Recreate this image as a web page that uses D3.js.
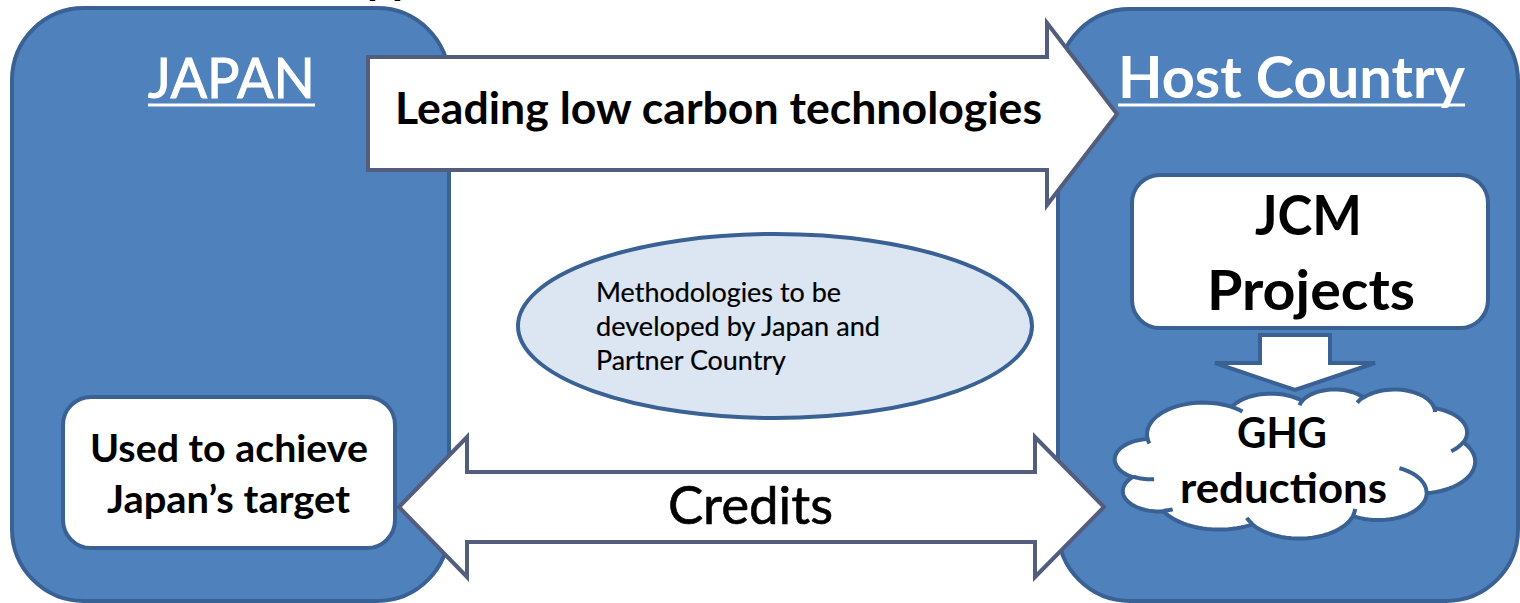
<!DOCTYPE html>
<html><head><meta charset="utf-8">
<script src="https://cdn.jsdelivr.net/npm/d3@7"></script>
<style>html,body{margin:0;padding:0;background:#fff;overflow:hidden}</style>
</head><body>
<svg id="c" width="1520" height="603"></svg>
<script>
// ---- content ----
const regions = ["JAPAN", "Host Country"];
const flowLabels = ["Leading low carbon technologies", "Credits"];
const japanBox = ["Used to achieve", "Japan\u2019s target"];
const projectBox = ["JCM", "Projects"];
const methodLines = ["Methodologies to be", "developed by Japan and", "Partner Country"];
const outcomeLines = ["GHG", "reductions"];
const titleFragment = ["pp"];

// ---- styles ----
const FONT = "Lato, 'Open Sans', 'Noto Sans', sans-serif";
const C = {
  panel: "#4F81BD", panelStroke: "#3A6194",
  arrowStroke: "#535D7D", white: "#FFFFFF",
  ellipse: "#DCE6F2", text: "#000000"
};

const svg = d3.select("#c");
const g = svg.append("g");

// ---- layout ----
const panelLayout = [
  {x0: 12, y0: 8, x1: 449, y1: 601, r: 72},
  {x0: 1058, y0: 9, x1: 1518, y1: 601, r: 72}
];
const regionText = [
  {x: 148, y: 98, w: 167, size: 57, weight: 400, ul: 105, sw: 1},
  {x: 1118, y: 98, w: 347, size: 57, weight: 700, ul: 105}
];

// panels
g.selectAll("rect.panel").data(regions).join("rect")
  .attr("class", "panel")
  .attr("x", (d, i) => panelLayout[i].x0).attr("y", (d, i) => panelLayout[i].y0)
  .attr("width", (d, i) => panelLayout[i].x1 - panelLayout[i].x0)
  .attr("height", (d, i) => panelLayout[i].y1 - panelLayout[i].y0)
  .attr("rx", (d, i) => panelLayout[i].r)
  .attr("fill", C.panel).attr("stroke", C.panelStroke).attr("stroke-width", 4);

// arrows
const line = d3.line();
const topArrow = {x0: 368, x1: 1047, tip: 1117, sy0: 57, sy1: 170, hy0: 23, hy1: 205};
const topPts = [[topArrow.x0, topArrow.sy0], [topArrow.x1, topArrow.sy0], [topArrow.x1, topArrow.hy0],
  [topArrow.tip, (topArrow.hy0 + topArrow.hy1) / 2], [topArrow.x1, topArrow.hy1],
  [topArrow.x1, topArrow.sy1], [topArrow.x0, topArrow.sy1]];
const botArrow = {lt: 399, lb: 467, rb: 1035, rt: 1104, sy0: 472, sy1: 542, hy0: 437, hy1: 577};
const by = (botArrow.hy0 + botArrow.hy1) / 2;
const botPts = [[botArrow.lt, by], [botArrow.lb, botArrow.hy0], [botArrow.lb, botArrow.sy0],
  [botArrow.rb, botArrow.sy0], [botArrow.rb, botArrow.hy0], [botArrow.rt, by],
  [botArrow.rb, botArrow.hy1], [botArrow.rb, botArrow.sy1], [botArrow.lb, botArrow.sy1],
  [botArrow.lb, botArrow.hy1]];

g.selectAll("path.flow").data(flowLabels).join("path")
  .attr("class", "flow")
  .attr("d", (d, i) => line(i === 0 ? topPts : botPts) + "Z")
  .attr("fill", C.white).attr("stroke", C.arrowStroke).attr("stroke-width", 4)
  .attr("stroke-linejoin", "miter");

// ellipse
g.append("ellipse").datum(methodLines)
  .attr("cx", 775).attr("cy", 326).attr("rx", 257).attr("ry", 92)
  .attr("fill", C.ellipse).attr("stroke", C.panelStroke).attr("stroke-width", 4);

// inner boxes
const boxLayout = [
  {x0: 63, y0: 397, x1: 395, y1: 548, r: 28, lines: japanBox},
  {x0: 1132, y0: 175, x1: 1488, y1: 328, r: 28, lines: projectBox}
];
g.selectAll("rect.box").data(boxLayout).join("rect")
  .attr("class", "box")
  .attr("x", d => d.x0).attr("y", d => d.y0)
  .attr("width", d => d.x1 - d.x0).attr("height", d => d.y1 - d.y0)
  .attr("rx", d => d.r)
  .attr("fill", C.white).attr("stroke", C.panelStroke).attr("stroke-width", 4);

// down arrow
const da = {x0: 1260, x1: 1330, top: 335, hy: 363, hx0: 1215, hx1: 1375, tip: 390};
const daPts = [[da.x0, da.top], [da.x1, da.top], [da.x1, da.hy], [da.hx1, da.hy],
  [(da.hx0 + da.hx1) / 2, da.tip], [da.hx0, da.hy], [da.x0, da.hy]];
g.append("path").attr("d", line(daPts) + "Z")
  .attr("fill", C.white).attr("stroke", C.panelStroke).attr("stroke-width", 4);

// cloud (DrawingML preset "cloud")
function arcPts(cur, wR, hR, stAng, swAng) {
  const st = stAng / 60000 * Math.PI / 180, sw = swAng / 60000 * Math.PI / 180;
  const par = a => Math.atan2(wR * Math.sin(a), hR * Math.cos(a));
  let t1 = par(st), t2 = par(st + sw);
  if (sw > 0) { while (t2 <= t1) t2 += 2 * Math.PI; }
  else { while (t2 >= t1) t2 -= 2 * Math.PI; }
  const cx = cur[0] - wR * Math.cos(t1), cy = cur[1] - hR * Math.sin(t1);
  const n = 24, pts = [];
  for (let k = 1; k <= n; k++) {
    const t = t1 + (t2 - t1) * k / n;
    pts.push([cx + wR * Math.cos(t), cy + hR * Math.sin(t)]);
  }
  return pts;
}
const cloudOutline = [[3900, 14370],
  [6753, 9190, -11429249, 7426832], [5333, 7267, -8646143, 5396714],
  [4365, 5945, -8748475, 5983381], [4857, 6595, -7859164, 7034504],
  [5333, 7273, -4722533, 6541615], [6775, 9220, -2776035, 7816140],
  [5785, 7867, 37501, 6842000], [6752, 9215, 1347096, 6910353],
  [7720, 10543, 3974558, 4542661], [4360, 5918, -16496525, 8804134],
  [4345, 5945, -14809710, 9151131]];
const cloudCreases = [
  [[4693, 26177], [4345, 5945, 5204520, 1585770]],
  [[6928, 34899], [4360, 5918, 4416628, 686848]],
  [[16478, 39090], [6752, 9215, 8257449, 844866]],
  [[28827, 34751], [6752, 9215, 387196, 959901]],
  [[34129, 22954], [5785, 7867, -4217541, 4255042]],
  [[41798, 15354], [5333, 7273, 1819082, 1665090]],
  [[38324, 5426], [4857, 6595, -824660, 891534]],
  [[29078, 3952], [4857, 6595, -8950887, 1091722]],
  [[22141, 4720], [4365, 5945, -9809656, 1061181]],
  [[14000, 5192], [6753, 9190, -4002417, 739161]],
  [[4127, 15789], [6753, 9190, 9459261, 711490]]
];
const cloudBox = {x: 1115, y: 389, w: 360, h: 149};
const cx = d3.scaleLinear().domain([0, 43200]).range([cloudBox.x, cloudBox.x + cloudBox.w]);
const cy = d3.scaleLinear().domain([0, 43200]).range([cloudBox.y, cloudBox.y + cloudBox.h]);
function buildPath(start, arcs) {
  let cur = start, pts = [start];
  arcs.forEach(a => { const p = arcPts(cur, a[0], a[1], a[2], a[3]); pts = pts.concat(p); cur = p[p.length - 1]; });
  return pts.map(p => [cx(p[0]), cy(p[1])]);
}
const outlinePts = buildPath(cloudOutline[0], cloudOutline.slice(1));
g.append("path").datum(outcomeLines).attr("d", line(outlinePts) + "Z")
  .attr("fill", C.white).attr("stroke", C.panelStroke).attr("stroke-width", 4)
  .attr("stroke-linejoin", "round");
g.selectAll("path.crease").data(cloudCreases).join("path")
  .attr("class", "crease")
  .attr("d", d => line(buildPath(d[0], [d[1]])))
  .attr("fill", "none").attr("stroke", C.panelStroke).attr("stroke-width", 4);

// ---- text ----
function txt(sel, items) {
  sel.selectAll(null).data(items).join("text")
    .attr("x", d => d.x).attr("y", d => d.y)
    .attr("textLength", d => d.w).attr("lengthAdjust", "spacingAndGlyphs")
    .attr("font-family", FONT).attr("font-size", d => d.size)
    .attr("font-weight", d => d.weight).attr("fill", d => d.fill || C.text)
    .attr("stroke", d => d.sw ? (d.fill || C.text) : "none")
    .attr("stroke-width", d => d.sw || 0)
    .text(d => d.t);
}
const T = svg.append("g");
txt(T, regions.map((t, i) => Object.assign({t, fill: C.white}, regionText[i])));
T.selectAll("line.ul").data(regions).join("line")
  .attr("x1", (d, i) => regionText[i].x).attr("x2", (d, i) => regionText[i].x + regionText[i].w)
  .attr("y1", (d, i) => regionText[i].ul).attr("y2", (d, i) => regionText[i].ul)
  .attr("stroke", C.white).attr("stroke-width", 3);

const flowText = [
  {x: 395, y: 124, w: 647, size: 43, weight: 700},
  {x: 668, y: 524, w: 165, size: 52, weight: 400, sw: 0.6}
];
txt(T, flowLabels.map((t, i) => Object.assign({t}, flowText[i])));

const japanText = [{x: 90, y: 462, w: 278}, {x: 107, y: 513, w: 243}];
txt(T, japanBox.map((t, i) => Object.assign({t, size: 38, weight: 700}, japanText[i])));

const projText = [{x: 1255, y: 235, w: 107}, {x: 1207, y: 310, w: 208}];
txt(T, projectBox.map((t, i) => Object.assign({t, size: 56, weight: 700}, projText[i])));

const methText = [{x: 596, y: 302, w: 245}, {x: 596, y: 336, w: 284}, {x: 596, y: 370, w: 190}];
txt(T, methodLines.map((t, i) => Object.assign({t, size: 26, weight: 400, sw: 0.2}, methText[i])));

const outText = [{x: 1237, y: 448, w: 90}, {x: 1180, y: 503, w: 207}];
txt(T, outcomeLines.map((t, i) => Object.assign({t, size: 42, weight: 700}, outText[i])));

txt(T, titleFragment.map(t => ({t, x: 367, y: -6, w: 50, size: 43, weight: 700})));
</script>
</body></html>
